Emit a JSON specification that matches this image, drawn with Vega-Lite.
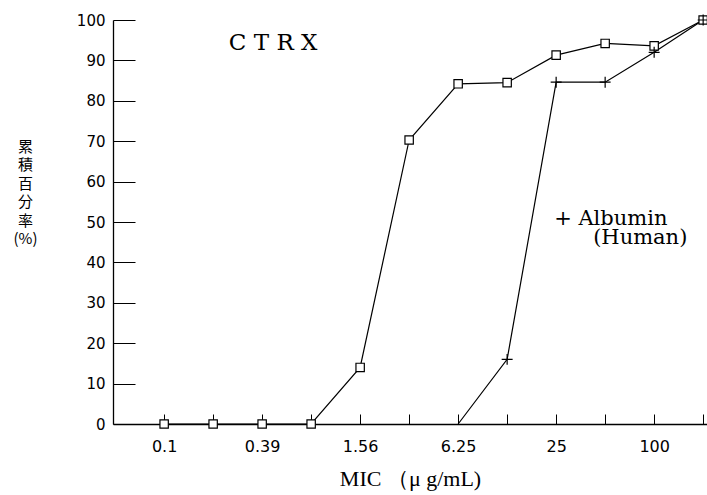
{
  "$schema": "https://vega.github.io/schema/vega-lite/v6.json",
  "width": 594,
  "height": 404,
  "autosize": {"type": "none"},
  "padding": {"left": 113, "top": 20, "right": 0, "bottom": 71},
  "background": "white",
  "config": {"view": {"stroke": null}, "axis": {"grid": false}},
  "datasets": {
    "curves": [
      {"series": "control", "mic": "0.1", "pct": 0},
      {"series": "control", "mic": "0.2", "pct": 0},
      {"series": "control", "mic": "0.39", "pct": 0},
      {"series": "control", "mic": "0.78", "pct": 0},
      {"series": "control", "mic": "1.56", "pct": 14},
      {"series": "control", "mic": "3.13", "pct": 70.3},
      {"series": "control", "mic": "6.25", "pct": 84.2},
      {"series": "control", "mic": "12.5", "pct": 84.5},
      {"series": "control", "mic": "25", "pct": 91.3},
      {"series": "control", "mic": "50", "pct": 94.2},
      {"series": "control", "mic": "100", "pct": 93.6},
      {"series": "control", "mic": "200", "pct": 100},
      {"series": "albumin", "mic": "6.25", "pct": 0},
      {"series": "albumin", "mic": "12.5", "pct": 16},
      {"series": "albumin", "mic": "25", "pct": 84.6},
      {"series": "albumin", "mic": "50", "pct": 84.6},
      {"series": "albumin", "mic": "100", "pct": 92},
      {"series": "albumin", "mic": "200", "pct": 100}
    ],
    "notes": [
      {"label": "C T R X", "mic": "0.39", "pct": 92.5},
      {"label": "+ Albumin", "mic": "25", "pct": 49.3},
      {"label": "(Human)", "mic": "50", "pct": 44.5}
    ]
  },
  "encoding": {
    "x": {
      "field": "mic",
      "type": "ordinal",
      "scale": {
        "type": "point",
        "domain": ["0.1", "0.2", "0.39", "0.78", "1.56", "3.13", "6.25", "12.5", "25", "50", "100", "200"],
        "padding": 0.561,
        "align": 0.93
      },
      "axis": {
        "title": "MIC （μ g/mL)",
        "labelExpr": "indexof(['0.1','0.39','1.56','6.25','25','100'], datum.label) >= 0 ? datum.label : ''",
        "labelOverlap": false,
        "labelAngle": 0,
        "tickSize": -10,
        "labelPadding": 24,
        "labelFont": "DejaVu Sans",
        "labelFontSize": 16,
        "labelColor": "black",
        "tickColor": "black",
        "domainColor": "black",
        "domainWidth": 1.3,
        "titleFont": "Liberation Serif",
        "titleFontSize": 22,
        "titleFontWeight": "normal",
        "titleColor": "black",
        "titleBaseline": "top",
        "titleY": 44
      }
    },
    "y": {
      "field": "pct",
      "type": "quantitative",
      "scale": {"domain": [0, 100]},
      "axis": {
        "values": [0, 10, 20, 30, 40, 50, 60, 70, 80, 90, 100],
        "tickSize": -22,
        "labelPadding": 30,
        "labelFont": "DejaVu Sans",
        "labelFontSize": 15,
        "labelColor": "black",
        "tickColor": "black",
        "domainColor": "black",
        "domainWidth": 1.3,
        "title": ["累", "積", "百", "分", "率", "(%)"],
        "titleAngle": 0,
        "titleX": -88,
        "titleY": 119,
        "titleAlign": "center",
        "titleBaseline": "top",
        "titleFont": "Noto Sans CJK JP",
        "titleFontSize": 15,
        "titleLineHeight": 18.5,
        "titleFontWeight": "normal",
        "titleColor": "black"
      }
    }
  },
  "layer": [
    {
      "data": {"name": "curves"},
      "mark": {"type": "line", "color": "black", "strokeWidth": 1.2},
      "encoding": {"detail": {"field": "series"}}
    },
    {
      "data": {"name": "curves"},
      "transform": [{"filter": "datum.series == 'control'"}],
      "mark": {"type": "point", "shape": "square", "size": 70, "filled": false, "fill": "white", "fillOpacity": 1, "stroke": "black", "strokeWidth": 1.2, "opacity": 1}
    },
    {
      "data": {"name": "curves"},
      "transform": [{"filter": "datum.series == 'albumin' && datum.pct > 0"}],
      "mark": {"type": "point", "shape": "M-1,0H1M0,-1V1", "size": 120, "filled": false, "stroke": "black", "strokeWidth": 1.2, "opacity": 1}
    },
    {
      "data": {"name": "notes"},
      "transform": [{"filter": "datum.label == 'C T R X'"}],
      "mark": {"type": "text", "font": "DejaVu Serif", "fontSize": 23, "align": "center", "baseline": "alphabetic", "dx": 11, "color": "black"},
      "encoding": {"text": {"field": "label"}}
    },
    {
      "data": {"name": "notes"},
      "transform": [{"filter": "datum.label == '+ Albumin'"}],
      "mark": {"type": "text", "font": "DejaVu Serif", "fontSize": 21, "align": "left", "baseline": "alphabetic", "dx": -2, "color": "black"},
      "encoding": {"text": {"field": "label"}}
    },
    {
      "data": {"name": "notes"},
      "transform": [{"filter": "datum.label == '(Human)'"}],
      "mark": {"type": "text", "font": "DejaVu Serif", "fontSize": 21, "align": "left", "baseline": "alphabetic", "dx": -12, "color": "black"},
      "encoding": {"text": {"field": "label"}}
    }
  ]
}
